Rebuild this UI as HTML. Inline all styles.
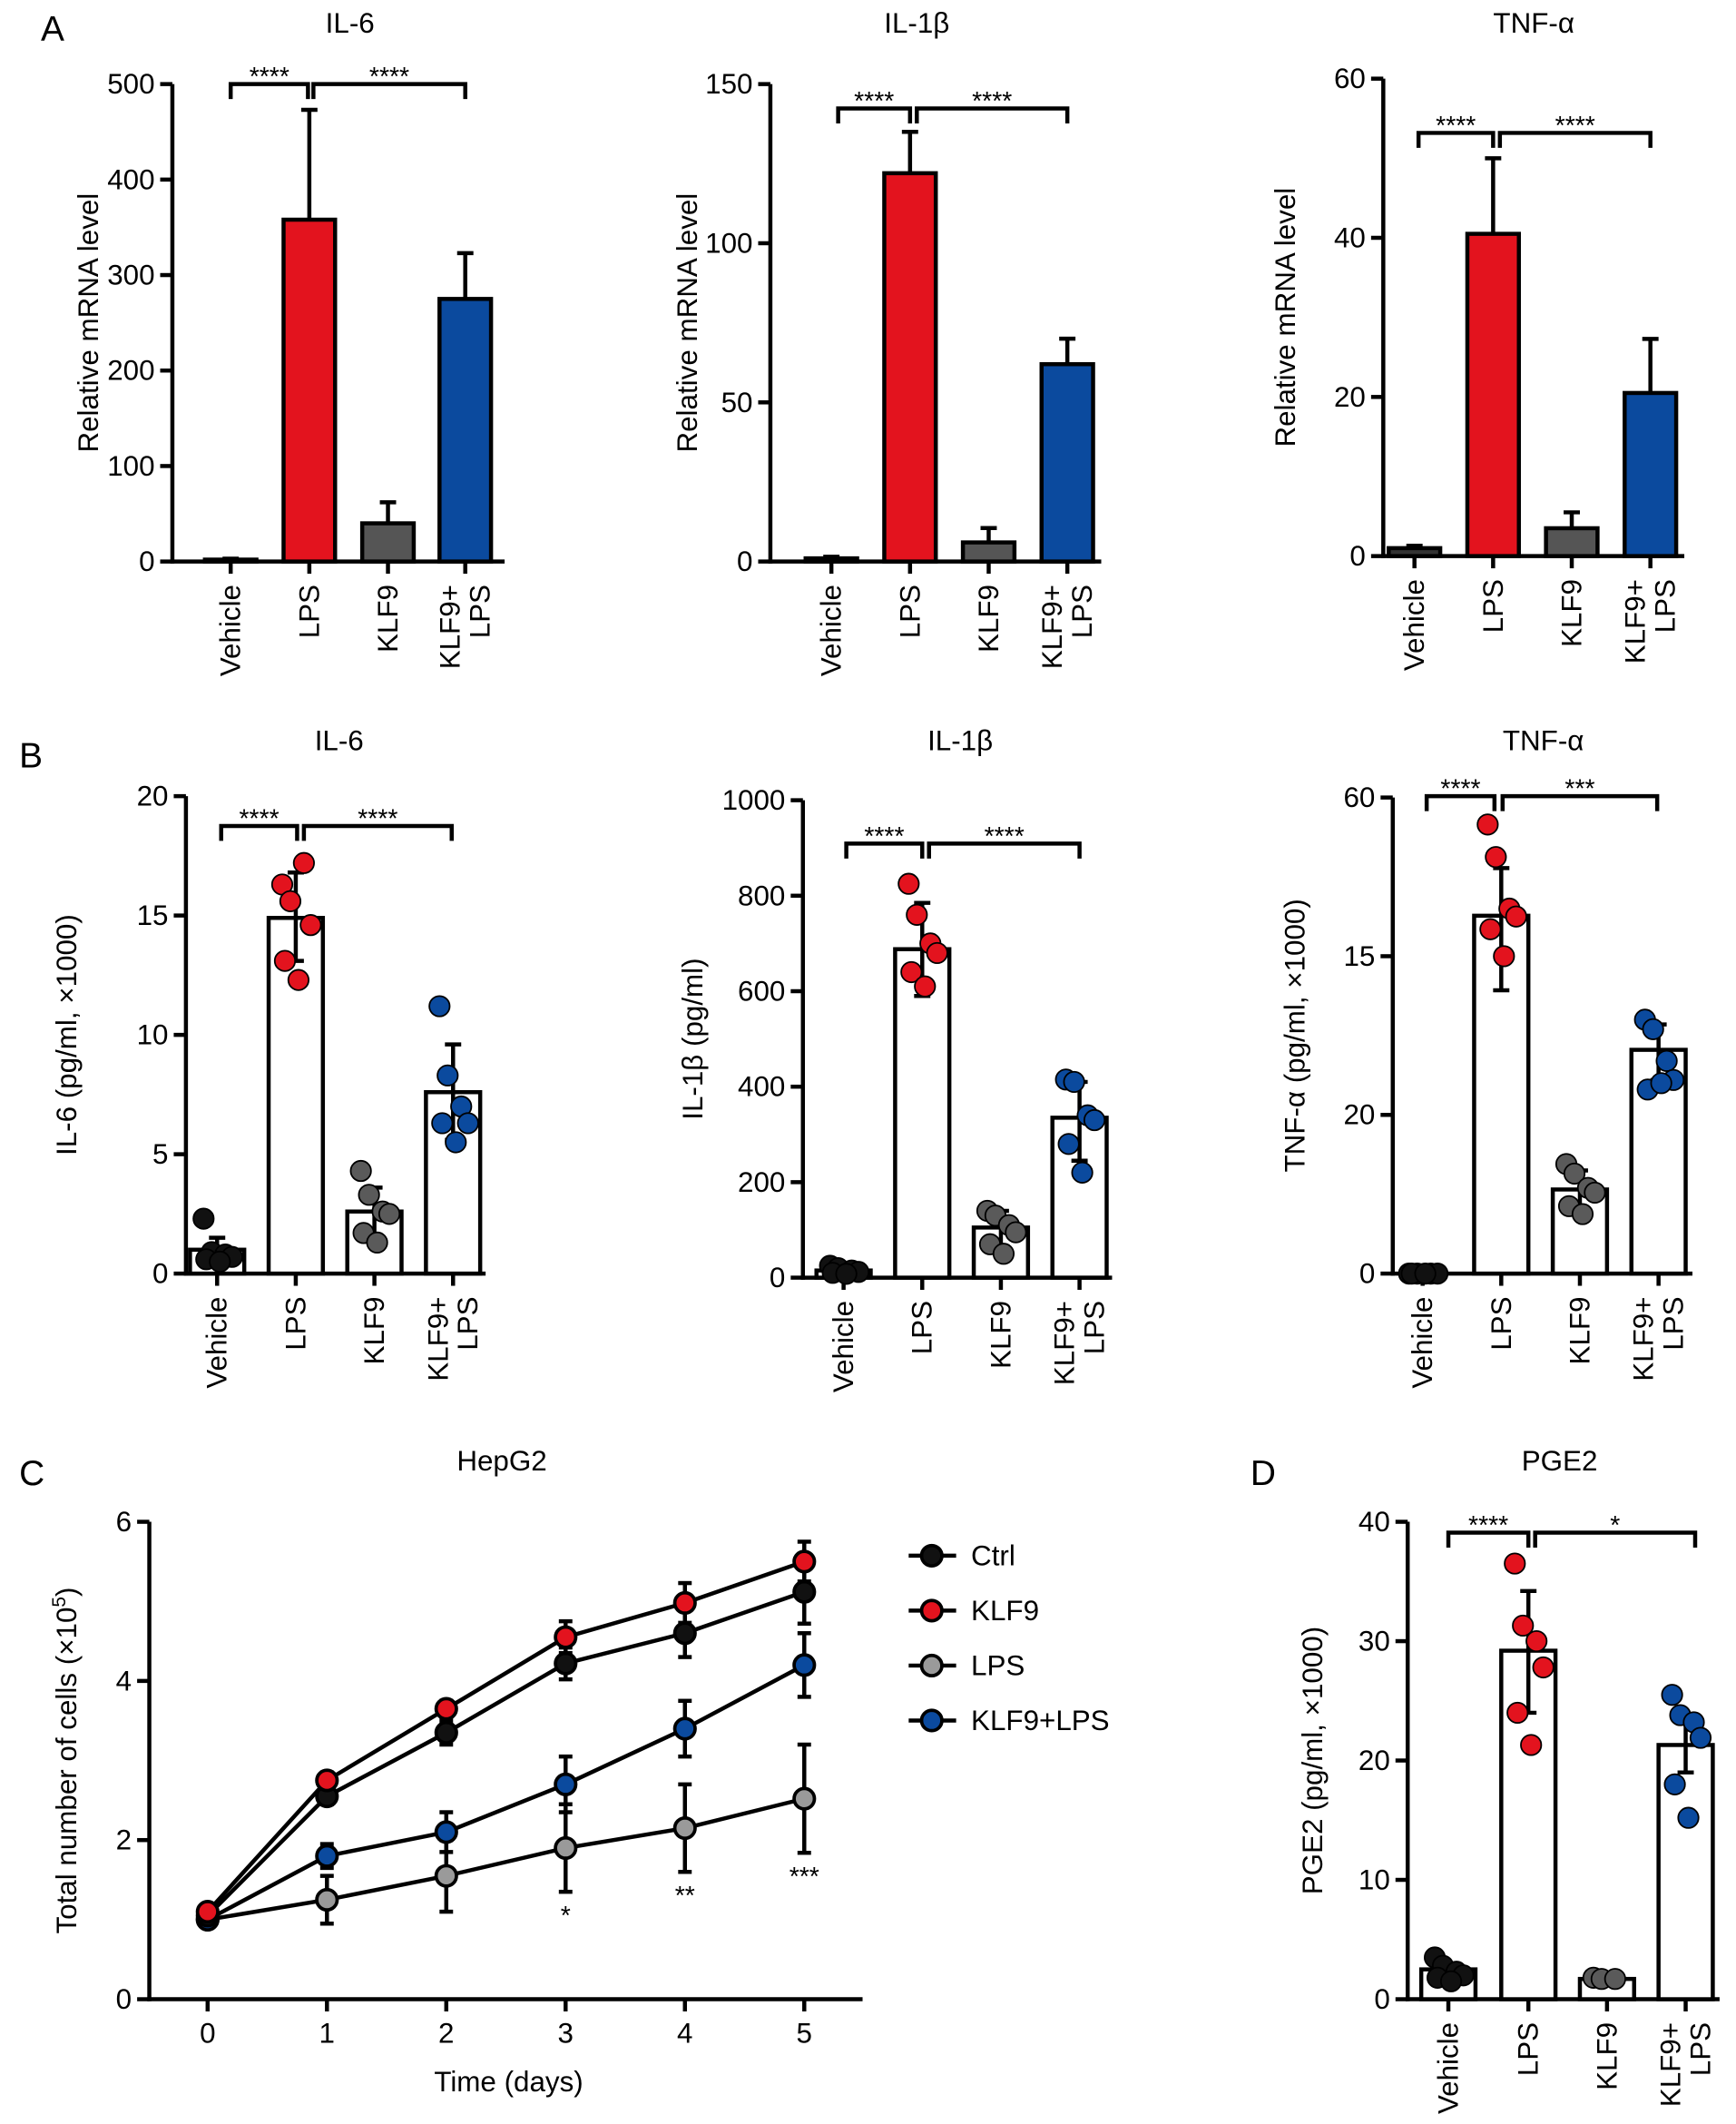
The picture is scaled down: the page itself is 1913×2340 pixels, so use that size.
<!DOCTYPE html>
<html><head><meta charset="utf-8">
<style>
html,body{margin:0;padding:0;background:#fff;}
svg{display:block;font-family:"Liberation Sans",Arial,sans-serif;}
</style></head>
<body>
<svg id="fig" width="1913" height="2340" viewBox="0 0 1280 1566" xmlns="http://www.w3.org/2000/svg">
<text x="30" y="30" font-size="26">A</text>
<text x="14" y="566" font-size="26">B</text>
<text x="14" y="1095" font-size="26">C</text>
<text x="922" y="1095" font-size="26">D</text>
</svg>
<script>
// ---------- data ----------
const groups = ["Vehicle","LPS","KLF9","KLF9+LPS"];
const barColorsA = ["#333333","#e3131e","#555555","#0b4a9e"];
const dotColors = ["#111111","#e3131e","#5a5a5a","#0b4a9e"];

const aIL6Values = [2, 358, 40, 275];
const aIL6ErrHi = [3, 473, 62, 323];
const aIL6Ticks = [0,100,200,300,400,500];

const aIL1bValues = [1, 122, 6, 62];
const aIL1bErrHi = [1.5, 135, 10.5, 70];
const aIL1bTicks = [0,50,100,150];

const aTNFValues = [1, 40.5, 3.5, 20.5];
const aTNFErrHi = [1.3, 50, 5.5, 27.3];
const aTNFTicks = [0,20,40,60];

const bIL6Values = [1.0, 14.9, 2.6, 7.6];
const bIL6ErrLo = [0.5, 13.1, 1.5, 5.6];
const bIL6ErrHi = [1.5, 16.8, 3.6, 9.6];
const bIL6Dots = [[2.3,0.9,0.8,0.7,0.6,0.5],[16.3,15.6,17.2,14.6,13.1,12.3],[4.3,3.3,2.6,2.5,1.7,1.3],[11.2,8.3,7.0,6.3,6.3,5.5]];
const bIL6Ticks = [0,5,10,15,20];

const bIL1bValues = [15, 688, 105, 335];
const bIL1bErrLo = [8, 590, 65, 245];
const bIL1bErrHi = [22, 785, 140, 410];
const bIL1bDots = [[25,20,15,12,10,8],[825,760,700,680,640,610],[140,130,110,95,70,50],[415,410,340,330,280,220]];
const bIL1bTicks = [0,200,400,600,800,1000];

const bTNFValues = [0, 45.1, 10.6, 28.2];
const bTNFErrLo = [0, 35.7, 8, 24.4];
const bTNFErrHi = [0, 51.1, 13, 31.4];
const bTNFDots = [[0,0,0,0,0,0],[56.6,52.5,46,45,43.4,40],[13.8,12.6,10.8,10.2,8.5,7.5],[32,30.8,26.8,24.4,23.2,24]];
const bTNFTicks = [0,20,40,60];
const bTNFTickLabels = ["0","20","15","60"];

const dValues = [2.5, 29.2, 1.7, 21.3];
const dErrLo = [2.0, 24, 1.4, 19];
const dErrHi = [3.0, 34.2, 2.0, 23.9];
const dDots = [[3.5,2.8,2.3,2.0,1.8,1.5],[36.5,31.3,30,27.8,24,21.3],[1.8,1.7,1.7],[25.5,23.8,23.2,21.9,18,15.2]];
const dTicks = [0,10,20,30,40];

const days = [0,1,2,3,4,5];
const dayTicks = [0,1,2,3,4,5];
const cTicks = [0,2,4,6];
const seriesNames = ["Ctrl","KLF9","LPS","KLF9+LPS"];
const seriesColors = ["#111111","#e3131e","#9a9a9a","#0b4a9e"];
const ctrlValues = [1.05,2.55,3.35,4.22,4.6,5.12];
const ctrlErr = [0.08,0.1,0.15,0.2,0.3,0.4];
const klf9Values = [1.1,2.75,3.65,4.55,4.98,5.5];
const klf9Err = [0.08,0.1,0.1,0.2,0.25,0.25];
const lpsValues = [1.0,1.25,1.55,1.9,2.15,2.52];
const lpsErr = [0.08,0.3,0.45,0.55,0.55,0.68];
const klfLpsValues = [1.0,1.8,2.1,2.7,3.4,4.2];
const klfLpsErr = [0.08,0.15,0.25,0.35,0.35,0.4];
const sigDays = [3,4,5];
const sigLabels = ["*","**","***"];

// ---------- helpers ----------
const NS = "http://www.w3.org/2000/svg";
const svg = document.getElementById("fig");
const FS = 21;
function mk(tag, attrs, parent){
  const e = document.createElementNS(NS, tag);
  for (const k in attrs) e.setAttribute(k, attrs[k]);
  (parent||svg).appendChild(e);
  return e;
}
const JIT = [-10, -4, 6, 11, -8, 2];

function barChart(c){
  const g = mk("g", {});
  
  
  const y = v => c.yBot - (v - 0) / c.max * (c.yBot - c.yTop);
  const t = mk("text", {x:c.titleX, y:c.titleY, "font-size":FS, "text-anchor":"middle"}, g);
  t.textContent = c.title;
  
  
  const yl = mk("text", {transform:`translate(${c.ylabelX},${(c.yTop+c.yBot)/2}) rotate(-90)`, "font-size":FS, "text-anchor":"middle"}, g);
  yl.textContent = c.ylabel;
  
  
  const ya = mk("line", {x1:c.axisX, y1:c.yTop, x2:c.axisX, y2:c.yBot+1.5, stroke:"#000","stroke-width":3}, g);
  
  
  const xa = mk("line", {x1:c.axisX-1.5, y1:c.yBot, x2:c.axisEnd, y2:c.yBot, stroke:"#000","stroke-width":3}, g);
  
  
  c.ticks.forEach((tv,i)=>{
    const ty = y(tv);
    mk("line", {x1:c.axisX-9, y1:ty, x2:c.axisX, y2:ty, stroke:"#000","stroke-width":3}, g);
    const tl = mk("text", {x:c.axisX-13, y:ty+7, "font-size":FS, "text-anchor":"end"}, g);
    tl.textContent = c.tickLabels ? c.tickLabels[i] : tv;
    
    
  });
  groups.forEach((gr,i)=>{
    const cx = c.centers[i];
    mk("line", {x1:cx, y1:c.yBot, x2:cx, y2:c.yBot+9, stroke:"#000","stroke-width":3}, g);
    const top = y(c.values[i]);
    const bar = mk("rect", {x:cx-c.barW/2, y:top, width:c.barW, height:Math.max(0,c.yBot-top), fill:c.fills[i], stroke:"#000","stroke-width":3}, g);
    
    
    const hi = y(c.errHi[i]);
    const lo = c.errLo ? y(c.errLo[i]) : top;
    if (c.errHi[i] > c.values[i] || c.errLo) {
      const eb = mk("line", {x1:cx, y1:hi, x2:cx, y2:lo, stroke:"#000","stroke-width":3}, g);
      
      
      mk("line", {x1:cx-6, y1:hi, x2:cx+6, y2:hi, stroke:"#000","stroke-width":3}, g);
      if (c.errLo) mk("line", {x1:cx-6, y1:lo, x2:cx+6, y2:lo, stroke:"#000","stroke-width":3}, g);
    }
    if (c.dots) {
      c.dots[i].forEach((dv,j)=>{
        const d = mk("circle", {cx:cx+JIT[j], cy:y(dv), r:7.5, fill:dotColors[i], stroke:"#000","stroke-width":1.2}, g);
        
        
      });
    }
    const lx = c.yBot + 17;
    if (gr === "KLF9+LPS") {
      const a = mk("text", {transform:`translate(${cx-4},${lx}) rotate(-90)`, "font-size":FS, "text-anchor":"end"}, g);
      a.textContent = "KLF9+";
      
      
      const b = mk("text", {transform:`translate(${cx+18},${lx}) rotate(-90)`, "font-size":FS, "text-anchor":"end"}, g);
      b.textContent = "LPS";
      
      
    } else {
      const a = mk("text", {transform:`translate(${cx+7},${lx}) rotate(-90)`, "font-size":FS, "text-anchor":"end"}, g);
      a.textContent = gr;
      
      
    }
  });
  c.brackets.forEach(br=>{
    const p = mk("path", {d:`M${br[0]},${c.brY+11} V${c.brY} H${br[1]} V${c.brY+11}`, fill:"none", stroke:"#000","stroke-width":3}, g);
    
    
    const s = mk("text", {x:(br[0]+br[1])/2, y:c.brY+1, "font-size":19, "text-anchor":"middle"}, g);
    s.textContent = br[2];
    
    
  });
}

barChart({name:"panel-a-il6", title:"IL-6", titleX:258, titleY:24, ylabel:"Relative mRNA level", ylabelX:72,
  axisX:127, axisEnd:372, yTop:62, yBot:414, max:500, ticks:aIL6Ticks, centers:[170,228,286,343], barW:38,
  values:aIL6Values, errHi:aIL6ErrHi, fills:barColorsA, brY:62,
  brackets:[[170,227,"****"],[231,343,"****"]]});
barChart({name:"panel-a-il1b", title:"IL-1β", titleX:676, titleY:24, ylabel:"Relative mRNA level", ylabelX:514,
  axisX:568, axisEnd:812, yTop:62, yBot:414, max:150, ticks:aIL1bTicks, centers:[613,671,729,787], barW:38,
  values:aIL1bValues, errHi:aIL1bErrHi, fills:barColorsA, brY:80,
  brackets:[[618,671,"****"],[676,787,"****"]]});
barChart({name:"panel-a-tnf", title:"TNF-α", titleX:1131, titleY:24, ylabel:"Relative mRNA level", ylabelX:955,
  axisX:1020, axisEnd:1242, yTop:58, yBot:410, max:60, ticks:aTNFTicks, centers:[1043,1101,1159,1217], barW:38,
  values:aTNFValues, errHi:aTNFErrHi, fills:barColorsA, brY:98,
  brackets:[[1046,1101,"****"],[1106,1217,"****"]]});

const white = ["#fff","#fff","#fff","#fff"];
barChart({name:"panel-b-il6", title:"IL-6", titleX:250, titleY:553, ylabel:"IL-6 (pg/ml, ×1000)", ylabelX:56,
  axisX:137, axisEnd:358, yTop:587, yBot:939, max:20, ticks:bIL6Ticks, centers:[160,218,276,334], barW:40,
  values:bIL6Values, errLo:bIL6ErrLo, errHi:bIL6ErrHi, dots:bIL6Dots, fills:white, brY:609,
  brackets:[[163,219,"****"],[224,333,"****"]]});
barChart({name:"panel-b-il1b", title:"IL-1β", titleX:708, titleY:553, ylabel:"IL-1β (pg/ml)", ylabelX:518,
  axisX:592, axisEnd:820, yTop:590, yBot:942, max:1000, ticks:bIL1bTicks, centers:[622,680,738,796], barW:40,
  values:bIL1bValues, errLo:bIL1bErrLo, errHi:bIL1bErrHi, dots:bIL1bDots, fills:white, brY:622,
  brackets:[[624,680,"****"],[685,796,"****"]]});
barChart({name:"panel-b-tnf", title:"TNF-α", titleX:1138, titleY:553, ylabel:"TNF-α (pg/ml, ×1000)", ylabelX:962,
  axisX:1027, axisEnd:1248, yTop:588, yBot:939, max:60, ticks:bTNFTicks, tickLabels:bTNFTickLabels, centers:[1049,1107,1165,1223], barW:40,
  values:bTNFValues, errLo:bTNFErrLo, errHi:bTNFErrHi, dots:bTNFDots, fills:white, brY:587,
  brackets:[[1052,1102,"****"],[1108,1222,"***"]]});

barChart({name:"panel-d-pge2", title:"PGE2", titleX:1150, titleY:1084, ylabel:"PGE2 (pg/ml, ×1000)", ylabelX:975,
  axisX:1038, axisEnd:1268, yTop:1122, yBot:1474, max:40, ticks:dTicks, centers:[1068,1127,1185,1243], barW:40,
  values:dValues, errLo:dErrLo, errHi:dErrHi, dots:dDots, fills:white, brY:1130,
  brackets:[[1068,1127,"****"],[1132,1250,"*"]]});

(function(){
  const g = mk("g", {});
  
  
  const ax = 110, yTop = 1122, yBot = 1474, xEnd = 636;
  const X = d => 153 + d * 88;
  const Y = v => yBot - v / 6 * (yBot - yTop);
  const t = mk("text", {x:370, y:1084, "font-size":FS, "text-anchor":"middle"}, g);
  t.textContent = "HepG2";
  
  
  const yl = mk("text", {transform:`translate(56,${(yTop+yBot)/2}) rotate(-90)`, "font-size":FS, "text-anchor":"middle"}, g);
  yl.innerHTML = 'Total number of cells (×10<tspan dy="-8" font-size="14">5</tspan><tspan dy="8">)</tspan>';
  
  
  const xl = mk("text", {x:375, y:1542, "font-size":FS, "text-anchor":"middle"}, g);
  xl.textContent = "Time (days)";
  
  
  const ya = mk("line", {x1:ax, y1:yTop, x2:ax, y2:yBot+1.5, stroke:"#000","stroke-width":3}, g);
  
  
  const xa = mk("line", {x1:ax-1.5, y1:yBot, x2:xEnd, y2:yBot, stroke:"#000","stroke-width":3}, g);
  
  
  cTicks.forEach(tv=>{
    mk("line", {x1:ax-9, y1:Y(tv), x2:ax, y2:Y(tv), stroke:"#000","stroke-width":3}, g);
    const tl = mk("text", {x:ax-13, y:Y(tv)+7, "font-size":FS, "text-anchor":"end"}, g);
    tl.textContent = tv;
    
    
  });
  dayTicks.forEach(d=>{
    mk("line", {x1:X(d), y1:yBot, x2:X(d), y2:yBot+9, stroke:"#000","stroke-width":3}, g);
    const tl = mk("text", {x:X(d), y:yBot+32, "font-size":FS, "text-anchor":"middle"}, g);
    tl.textContent = d;
    
    
  });
  const allVals = [ctrlValues, klf9Values, lpsValues, klfLpsValues];
  const allErr = [ctrlErr, klf9Err, lpsErr, klfLpsErr];
  const order = [2,3,0,1];
  order.forEach(s=>{
    const vals = allVals[s], errs = allErr[s];
    const sg = mk("g", {}, g);
    
    
    days.forEach((d,i)=>{
      const x = X(d);
      mk("line", {x1:x, y1:Y(vals[i]+errs[i]), x2:x, y2:Y(vals[i]-errs[i]), stroke:"#000","stroke-width":3}, sg);
      mk("line", {x1:x-5, y1:Y(vals[i]+errs[i]), x2:x+5, y2:Y(vals[i]+errs[i]), stroke:"#000","stroke-width":3}, sg);
      mk("line", {x1:x-5, y1:Y(vals[i]-errs[i]), x2:x+5, y2:Y(vals[i]-errs[i]), stroke:"#000","stroke-width":3}, sg);
    });
    const pts = days.map((d,i)=>X(d)+","+Y(vals[i])).join(" ");
    const pl = mk("polyline", {points:pts, fill:"none", stroke:"#000","stroke-width":3}, sg);
    
    
    days.forEach((d,i)=>{
      const c = mk("circle", {cx:X(d), cy:Y(vals[i]), r:7.5, fill:seriesColors[s], stroke:"#000","stroke-width":2.5}, sg);
      
      
    });
  });
  sigDays.forEach((d,i)=>{
    const idx = days.indexOf(d);
    const st = mk("text", {x:X(d), y:Y(lpsValues[idx]-lpsErr[idx]) + 24, "font-size":19, "text-anchor":"middle"}, g);
    st.textContent = sigLabels[i];
    
    
  });
  seriesNames.forEach((n,i)=>{
    const ly = 1147 + i * 40.5;
    const lg = mk("g", {}, g);
    
    
    mk("line", {x1:670, y1:ly, x2:705, y2:ly, stroke:"#000","stroke-width":3}, lg);
    mk("circle", {cx:687, cy:ly, r:7.5, fill:seriesColors[i], stroke:"#000","stroke-width":2.5}, lg);
    const lt = mk("text", {x:716, y:ly+7, "font-size":FS}, lg);
    lt.textContent = n;
  });
})();
</script>
</body></html>
